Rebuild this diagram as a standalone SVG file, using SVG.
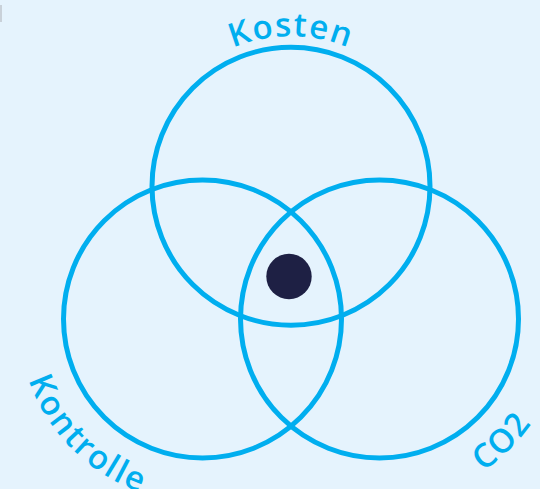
<svg xmlns="http://www.w3.org/2000/svg" width="540" height="489" viewBox="0 0 540 489">
  <style>
    .ring { fill: none; stroke: #00aeef; stroke-width: 5; }
    .lbl { fill: #00aeef; font-family: "Open Sans", "DejaVu Sans", sans-serif; font-size: 33px; font-weight: 600; letter-spacing: 1.5px; }
  </style>
  <defs>
    <path id="pKosten" d="M 141,186.25 A 150 150 0 0 1 441,186.25"/>
    <path id="pKontrolle" d="M 84.2,178.1 A 184 184 0 1 0 343.4,437.3"/>
    <path id="pCO2" d="M 238.6,437.3 A 184 184 0 1 0 497.8,178.1"/>
  </defs>
  <rect width="540" height="489" fill="#e5f3fd"/>
  <rect x="0" y="5" width="2" height="17" fill="#c9d1d9"/>
  <g id="kosten">
    <circle class="ring" cx="291" cy="186.25" r="139"/>
    <text class="lbl" text-anchor="middle"><textPath href="#pKosten" startOffset="50%">Kosten</textPath></text>
  </g>
  <g id="kontrolle">
    <circle class="ring" cx="202.5" cy="319" r="139"/>
    <text class="lbl" text-anchor="middle" style="letter-spacing:2px"><textPath href="#pKontrolle" startOffset="50%">Kontrolle</textPath></text>
  </g>
  <g id="co2">
    <circle class="ring" cx="379.5" cy="319" r="139"/>
    <text class="lbl" text-anchor="middle"><textPath href="#pCO2" startOffset="50%">CO2</textPath></text>
  </g>
  <g id="marker">
    <circle cx="289" cy="276.5" r="22.7" fill="#1e2044"/>
  </g>
</svg>
